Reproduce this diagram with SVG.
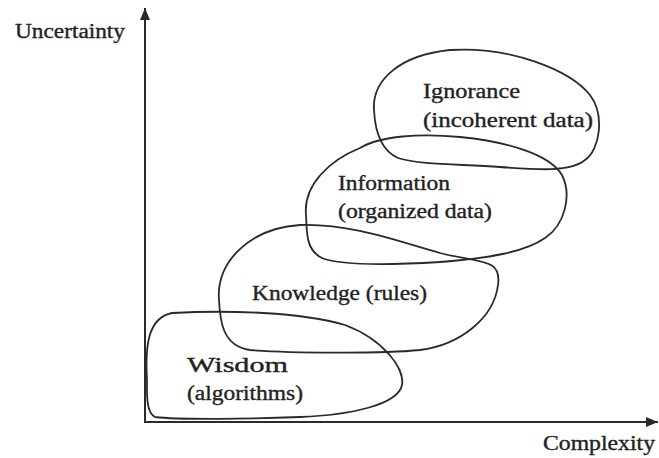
<svg xmlns="http://www.w3.org/2000/svg" width="659" height="458" viewBox="0 0 659 458">
<style>
.blob{fill:none;stroke:#2a2a2a;stroke-width:1.8;stroke-linejoin:round}
.axis{fill:none;stroke:#2a2a2a;stroke-width:2}
text{font-family:"Liberation Serif","Times New Roman",serif;font-size:20px;fill:#222;stroke:#222;stroke-width:0.35}
</style>
<defs>
<marker id="arr" viewBox="0 0 12 10" refX="12" refY="5" markerWidth="12" markerHeight="10" markerUnits="userSpaceOnUse" orient="auto">
<path d="M0,0 L12,5 L0,10 Z" fill="#2a2a2a"/>
</marker>
</defs>
<rect width="659" height="458" fill="#ffffff"/>
<g id="connectors">
<line class="axis" x1="145" y1="422" x2="145" y2="8" marker-end="url(#arr)"/>
<line class="axis" x1="144" y1="422" x2="658" y2="422" marker-end="url(#arr)"/>
</g>
<g id="axis-labels">
<text x="15" y="38" textLength="110" lengthAdjust="spacingAndGlyphs">Uncertainty</text>
<text x="543" y="450" textLength="112" lengthAdjust="spacingAndGlyphs">Complexity</text>
</g>
<g id="ignorance">
<path class="blob" d="M 374,110 C 372,80 400,55 450,50 C 510,46 570,70 590,95 C 605,115 600,150 585,160 C 570,172 540,170 500,167 C 460,164 420,165 398,158 C 380,150 375,130 374,110 Z"/>
<text x="423" y="98" textLength="97" lengthAdjust="spacingAndGlyphs">Ignorance</text>
<text x="423" y="127" textLength="170" lengthAdjust="spacingAndGlyphs">(incoherent data)</text>
</g>
<g id="information">
<path class="blob" d="M 306,215 C 303,185 330,160 360,148 C 380,136 420,133 460,137 C 510,142 550,155 562,175 C 572,195 565,225 545,238 C 525,252 490,258 440,262 C 390,265 340,265 322,258 C 305,250 307,230 306,215 Z"/>
<text x="338" y="190" textLength="112" lengthAdjust="spacingAndGlyphs">Information</text>
<text x="338" y="218" textLength="154" lengthAdjust="spacingAndGlyphs">(organized data)</text>
</g>
<g id="knowledge">
<path class="blob" d="M 219,300 C 216,262 250,228 300,225 C 350,223 400,242 440,253 C 480,263 502,258 498,285 C 494,318 460,345 420,350 C 380,354 290,353 250,350 C 222,346 220,320 219,300 Z"/>
<text x="252" y="300" textLength="175" lengthAdjust="spacingAndGlyphs">Knowledge (rules)</text>
</g>
<g id="wisdom">
<path class="blob" d="M 147,380 C 145,345 148,318 172,313 C 230,310 300,312 345,325 C 385,340 405,370 402,385 C 398,405 350,415 300,417 C 250,419 180,420 155,417 C 146,412 147,395 147,380 Z"/>
<text x="187" y="372" textLength="101" lengthAdjust="spacingAndGlyphs">Wisdom</text>
<text x="187" y="400" textLength="116" lengthAdjust="spacingAndGlyphs">(algorithms)</text>
</g>
</svg>
